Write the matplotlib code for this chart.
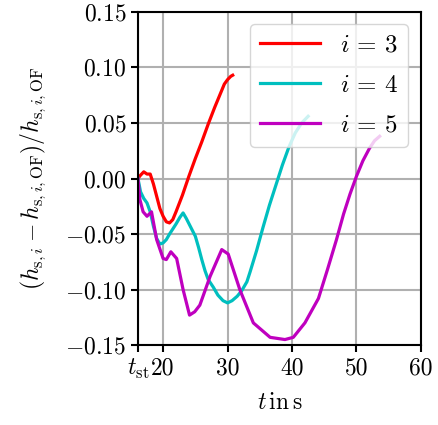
import numpy as np
import matplotlib
matplotlib.use("Agg")
import matplotlib.pyplot as plt

plt.rcParams['font.family'] = 'serif'
plt.rcParams['font.serif'] = ['cmr10', 'DejaVu Serif']
plt.rcParams['mathtext.fontset'] = 'cm'
plt.rcParams['axes.formatter.use_mathtext'] = True
plt.rcParams['axes.unicode_minus'] = True

t_st = 16.1

# i = 3
t3 = [16.1, 16.5, 17, 17.5, 18, 18.5, 19, 19.5, 20, 20.5, 21, 21.5, 22, 23, 24, 25,
      26, 27, 28, 29, 29.5, 30, 30.5, 30.8]
d3 = [0.0, 0.003, 0.006, 0.004, 0.004, -0.005, -0.016, -0.027, -0.034, -0.039, -0.040,
      -0.037, -0.030, -0.015, 0.002, 0.018, 0.033, 0.049, 0.064, 0.078, 0.085, 0.089,
      0.092, 0.093]

# i = 4
t4 = [16.1, 16.5, 17, 17.5, 18, 18.5, 19, 19.5, 20, 20.5, 21, 22, 22.6, 23.1, 23.6,
      24.3, 25, 25.5, 26, 26.5, 27, 27.8, 28.5, 29.3, 30, 30.7, 31.5, 32.2, 33, 33.5,
      34.5, 35.5, 36.5, 37.5, 38.5, 39.5, 40.5, 41.5, 42.5]
d4 = [0.0, -0.012, -0.018, -0.022, -0.030, -0.043, -0.054, -0.059, -0.058, -0.055,
      -0.050, -0.041, -0.035, -0.031, -0.036, -0.044, -0.052, -0.062, -0.073, -0.083,
      -0.091, -0.098, -0.105, -0.110, -0.112, -0.110, -0.106, -0.101, -0.093, -0.084,
      -0.065, -0.044, -0.024, -0.006, 0.012, 0.028, 0.041, 0.050, 0.056]

# i = 5
t5 = [16.1, 16.4, 16.9, 17.5, 18.2, 19.0, 20.0, 20.5, 21.2, 22.1, 23.1, 24.1, 24.9,
      25.7, 27.3, 29.1, 30.1, 31.9, 34.0, 36.6, 38.9, 40.2, 42.0, 44.1, 45.5, 46.9,
      48.0, 49.0, 50.0, 51.0, 52.0, 52.8, 53.6]
d5 = [0.0, -0.019, -0.030, -0.034, -0.030, -0.055, -0.072, -0.073, -0.066, -0.072,
      -0.100, -0.123, -0.120, -0.114, -0.088, -0.064, -0.068, -0.100, -0.130, -0.143,
      -0.145, -0.143, -0.130, -0.108, -0.082, -0.055, -0.032, -0.014, 0.002, 0.016,
      0.027, 0.034, 0.038]

xticks = [t_st, 20, 30, 40, 50, 60]
xlabels = [r'$t_{\mathrm{st}}$', '20', '30', '40', '50', '60']
yticks = [-0.15, -0.10, -0.05, 0.0, 0.05, 0.10, 0.15]

fig = plt.figure(figsize=(4.38, 4.25), dpi=100)
ax = fig.add_axes([0.315, 0.188, 0.646, 0.784])

ax.plot(t3, d3, color='r', lw=2.3, label=r'$i \,=\, 3$')
ax.plot(t4, d4, color='c', lw=2.3, label=r'$i \,=\, 4$')
ax.plot(t5, d5, color='m', lw=2.3, label=r'$i \,=\, 5$')

ax.set_xlim(t_st, 60)
ax.set_ylim(-0.15, 0.15)
ax.set_xticks(xticks)
ax.set_xticklabels(xlabels)
ax.set_yticks(yticks)
ax.set_yticklabels([r'$%.2f$' % v for v in yticks])
ax.tick_params(labelsize=17, width=1.5, length=5)
ax.grid(True, color='#b0b0b0', lw=1.5)
for s in ax.spines.values():
    s.set_linewidth(1.5)

ax.set_xlabel(r'$t\,\mathrm{in\,s}$', fontsize=17, labelpad=8)
ax.set_ylabel(r'$(h_{\mathrm{s},i} - h_{\mathrm{s},i,\mathrm{OF}})/h_{\mathrm{s},i,\mathrm{OF}}$',
              fontsize=17, labelpad=12)
ax.legend(loc='upper right', fontsize=18, handlelength=2.4, labelspacing=0.7,
          borderaxespad=0.5)

fig.savefig('out.png', dpi=100)
